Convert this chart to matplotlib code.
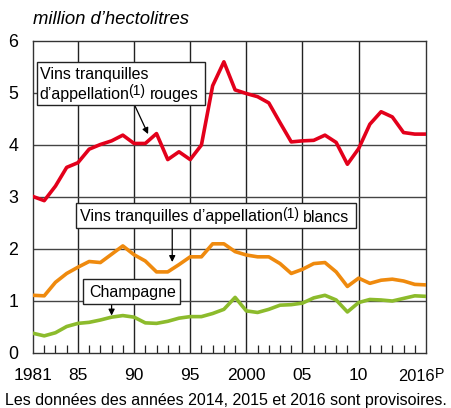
import matplotlib
matplotlib.use("Agg")
import matplotlib.pyplot as plt
from matplotlib.patches import Rectangle
from matplotlib.transforms import IdentityTransform

plt.rcParams['font.family'] = ['Liberation Sans', 'DejaVu Sans']

years = list(range(1981, 2017))
rouges = [3.00, 2.92, 3.20, 3.56, 3.65, 3.91, 4.00, 4.07, 4.18, 4.02, 4.02, 4.21,
          3.71, 3.86, 3.71, 3.99, 5.13, 5.59, 5.05, 4.98, 4.92, 4.80, 4.42, 4.05,
          4.07, 4.08, 4.18, 4.04, 3.62, 3.92, 4.39, 4.63, 4.53, 4.23, 4.20, 4.20]
blancs = [1.10, 1.09, 1.35, 1.52, 1.64, 1.75, 1.73, 1.89, 2.05, 1.88, 1.76, 1.55,
          1.55, 1.69, 1.84, 1.84, 2.09, 2.09, 1.94, 1.875, 1.84, 1.84, 1.71, 1.52,
          1.60, 1.71, 1.73, 1.55, 1.27, 1.43, 1.33, 1.39, 1.41, 1.375, 1.31, 1.30]
champagne = [0.37, 0.32, 0.38, 0.50, 0.56, 0.58, 0.625, 0.68, 0.71, 0.68, 0.57, 0.56,
             0.60, 0.66, 0.69, 0.69, 0.75, 0.83, 1.06, 0.80, 0.77, 0.83, 0.91, 0.92,
             0.95, 1.05, 1.10, 1.01, 0.78, 0.96, 1.02, 1.01, 0.99, 1.04, 1.09, 1.08]

xtick_pos = [1981, 1985, 1990, 1995, 2000, 2005, 2010, 2016]
xtick_labels = ["1981", "85", "90", "95", "2000", "05", "10", ""]
last_label, last_sup = "2016", "P"
ytick_pos = [0, 1, 2, 3, 4, 5, 6]

red = "#e3001b"
orange = "#ef8a0e"
green = "#8cbb2c"

W, H = 451, 408
fig = plt.figure(figsize=(W / 100, H / 100), dpi=100)
ax = fig.add_axes([33 / W, 1 - 352.5 / H, 393 / W, 312 / H])

ax.set_xlim(1981, 2016)
ax.set_ylim(0, 6)

for g in [1985, 1990, 1995, 2000, 2005, 2010]:
    ax.axvline(g, color="#222222", lw=1.0, zorder=1)
for g in [1, 2, 3, 4, 5]:
    ax.axhline(g, color="#444444", lw=1.0, zorder=1)

lw = 2.6
ax.plot(years, rouges, color=red, lw=lw, zorder=3, solid_joinstyle='round')
ax.plot(years, blancs, color=orange, lw=lw, zorder=3, solid_joinstyle='round')
ax.plot(years, champagne, color=green, lw=lw, zorder=3, solid_joinstyle='round')

for s in ax.spines.values():
    s.set_color("#333333")
    s.set_linewidth(1.0)

ax.set_xticks(xtick_pos)
ax.set_xticklabels(xtick_labels, fontsize=12.5)
ax.set_xticks(years, minor=True)
ax.tick_params(axis='x', which='major', length=0, pad=11.5)
ax.tick_params(axis='x', which='minor', direction='in', length=6, width=0.9, color="#222222")
ax.set_yticks(ytick_pos)
ax.set_yticklabels([str(v) for v in ytick_pos], fontsize=12.8)
ax.tick_params(axis='y', which='both', length=0, pad=10.5)

fig.text(33 / W, 1 - 20 / H, "million d’hectolitres", fontsize=13.3, style='italic',
         ha='left', va='center')
fig.text(5 / W, 1 - 400 / H, "Les données des années 2014, 2015 et 2016 sont provisoires.",
         fontsize=11.5, ha='left', va='center')

renderer = fig.canvas.get_renderer()
ID = IdentityTransform()

# last x tick label with superscript P
xd = ax.transData.transform((xtick_pos[-1], 0))[0]
fig.text(xd + 8.5, H - 380.7, last_label, fontsize=11.8, ha='right', va='baseline', transform=ID)
fig.text(xd + 9.0, H - 378.0, last_sup, fontsize=10.2, ha='left', va='baseline', transform=ID)

# arrows
arrow = dict(arrowstyle='-|>', color='black', lw=0.9, mutation_scale=9, shrinkA=0, shrinkB=0)
ax.annotate("", xy=(1991.25, 4.20), xytext=(1990.0, 4.78), arrowprops=arrow, zorder=4)
ax.annotate("", xy=(1993.4, 1.74), xytext=(1993.4, 2.39), arrowprops=arrow, zorder=4)
ax.annotate("", xy=(1988.0, 0.71), xytext=(1988.0, 0.97), arrowprops=arrow, zorder=4)

FS, SFS = 11.55, 10.0
SPACE = 0.278 * FS * 100 / 72


def label_box(box, lines):
    """box = (left, top, right, bottom) in pixels from top-left;
    lines = list of (baseline_y_from_top, x_start, [(text, is_sup), ...])"""
    l, t, r, b = box
    fig.add_artist(Rectangle((l, H - b), r - l, b - t, transform=ID, fc='white',
                             ec='#222222', lw=1.0, zorder=4))
    for base, x0, pieces in lines:
        x = x0
        for s, sup in pieces:
            if sup:
                txt = fig.text(x, H - base + 3.4, s, fontsize=SFS, ha='left',
                               va='baseline', transform=ID, zorder=5)
                x += txt.get_window_extent(renderer).width + SPACE - 0.5
            else:
                txt = fig.text(x, H - base, s, fontsize=FS, ha='left', va='baseline',
                               transform=ID, zorder=5)
                x += txt.get_window_extent(renderer).width - 0.8


label_box((37, 62, 205, 104.5), [
    (78.7, 39.5, [("Vins tranquilles", False)]),
    (98.7, 39.5, [("d’appellation", False), ("(1)", True), ("rouges", False)]),
])
label_box((76, 203, 356, 228.3), [
    (221.5, 80.0, [("Vins tranquilles d’appellation", False), ("(1)", True), ("blancs", False)]),
])
label_box((83, 279, 180, 304), [
    (296.8, 89.5, [("Champagne", False)]),
])

fig.savefig("out.png", dpi=100)
